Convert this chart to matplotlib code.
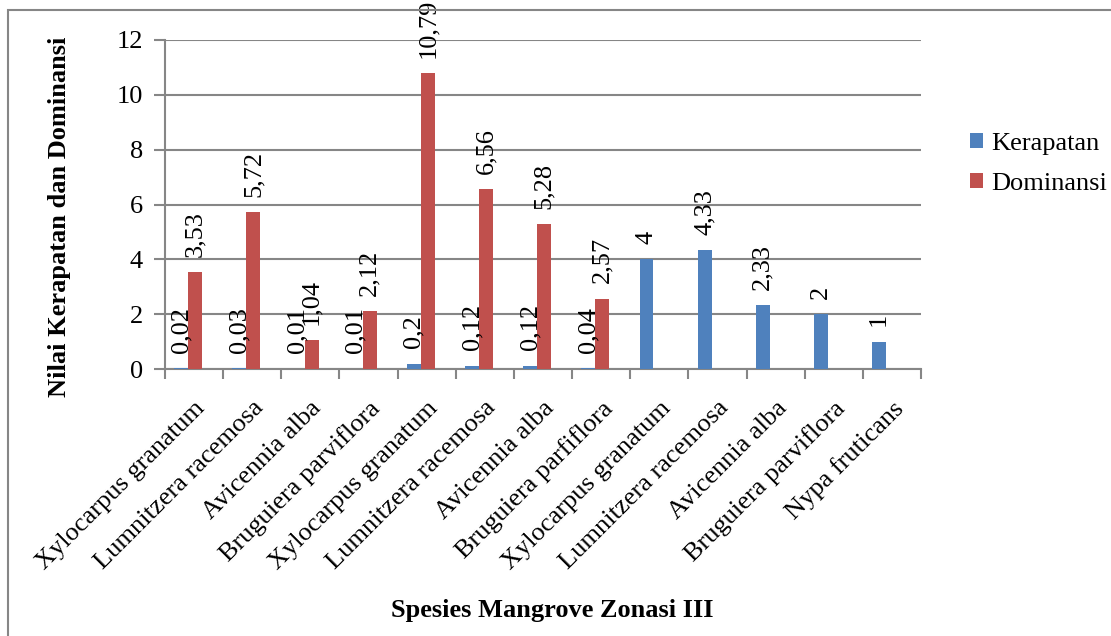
import numpy as np
import matplotlib
matplotlib.use("Agg")
import matplotlib.pyplot as plt
from matplotlib.patches import Rectangle

species = ["Xylocarpus granatum", "Lumnitzera racemosa", "Avicennia alba",
           "Bruguiera parviflora", "Xylocarpus granatum", "Lumnitzera racemosa",
           "Avicennia alba", "Bruguiera parfiflora", "Xylocarpus granatum",
           "Lumnitzera racemosa", "Avicennia alba", "Bruguiera parviflora",
           "Nypa fruticans"]
kerapatan = [0.02, 0.03, 0.01, 0.01, 0.2, 0.12, 0.12, 0.04, 4, 4.33, 2.33, 2, 1]
dominansi = [3.53, 5.72, 1.04, 2.12, 10.79, 6.56, 5.28, 2.57,
             None, None, None, None, None]
yticks = [0, 2, 4, 6, 8, 10, 12]

plt.rcParams['font.family'] = ['Liberation Serif', 'DejaVu Serif']
plt.rcParams['font.size'] = 19
fs = 19

W, H = 1111, 636
fig = plt.figure(figsize=(W / 100, H / 100), dpi=100)
ax = fig.add_axes([165 / W, 1 - 369 / H, (921 - 165) / W, (369 - 40) / H])

grey = "#868686"
blue = "#4F81BD"
red = "#C0504D"

x = np.arange(len(species))
bw = 0.24
shift = -0.1

def fmt(v):
    s = ("%.2f" % v).rstrip("0").rstrip(".")
    return s.replace(".", ",")

dom = np.array([np.nan if v is None else v for v in dominansi])
b1 = ax.bar(x + shift - bw / 2, kerapatan, bw, color=blue, label="Kerapatan", zorder=3)
b2 = ax.bar(x + shift + bw / 2, np.nan_to_num(dom), bw, color=red, label="Dominansi", zorder=3)

for rect, v in zip(b1, kerapatan):
    ax.annotate(fmt(v), (rect.get_x() + rect.get_width() / 2, rect.get_height()),
                xytext=(0, 11), textcoords="offset points", rotation=90,
                ha="center", va="bottom", fontsize=fs, annotation_clip=False)
for rect, v in zip(b2, dominansi):
    if v is None:
        continue
    ax.annotate(fmt(v), (rect.get_x() + rect.get_width() / 2, rect.get_height()),
                xytext=(0, 11), textcoords="offset points", rotation=90,
                ha="center", va="bottom", fontsize=fs, annotation_clip=False)

ax.set_xlim(-0.5, len(species) - 0.5)
ax.set_ylim(0, 12)
ax.set_yticks(yticks)
ax.yaxis.grid(True, color=grey, linewidth=1.5, zorder=0)
ax.set_axisbelow(True)

ax.set_xticks(np.arange(-0.5, len(species), 1.0))
ax.set_xticklabels([])
ax.set_xticks(x, minor=True)
ax.set_xticklabels(species, minor=True, rotation=45, ha="right",
                   rotation_mode="anchor", fontsize=fs)
ax.tick_params(axis="x", which="minor", length=0, pad=20)
ax.tick_params(axis="x", which="major", length=7, width=1.5, color=grey, direction="out")
ax.tick_params(axis="y", length=8, width=1.5, color=grey, pad=8, labelsize=fs)

for s in ["top", "right"]:
    ax.spines[s].set_visible(False)
for s in ["left", "bottom"]:
    ax.spines[s].set_color(grey)
    ax.spines[s].set_linewidth(1.5)

fig.text(60 / W, 1 - 217 / H, "Nilai Kerapatan dan Dominansi", rotation=90,
         ha="center", va="center", fontsize=fs, fontweight="bold")
fig.text(552 / W, 1 - 610 / H, "Spesies Mangrove Zonasi III",
         ha="center", va="center", fontsize=fs, fontweight="bold")

fig.legend(handles=[b1, b2], loc="center left",
           bbox_to_anchor=(946 / W, 1 - 164 / H), frameon=False,
           handlelength=0.5, handleheight=0.5, handletextpad=0.3,
           labelspacing=0.7, fontsize=fs)

fig.patches.append(Rectangle((8 / W, -0.1), 1.2, 1 - 10 / H + 0.1,
                             transform=fig.transFigure, fill=False,
                             edgecolor=grey, linewidth=1.5))

fig.savefig("out.png", dpi=100)
